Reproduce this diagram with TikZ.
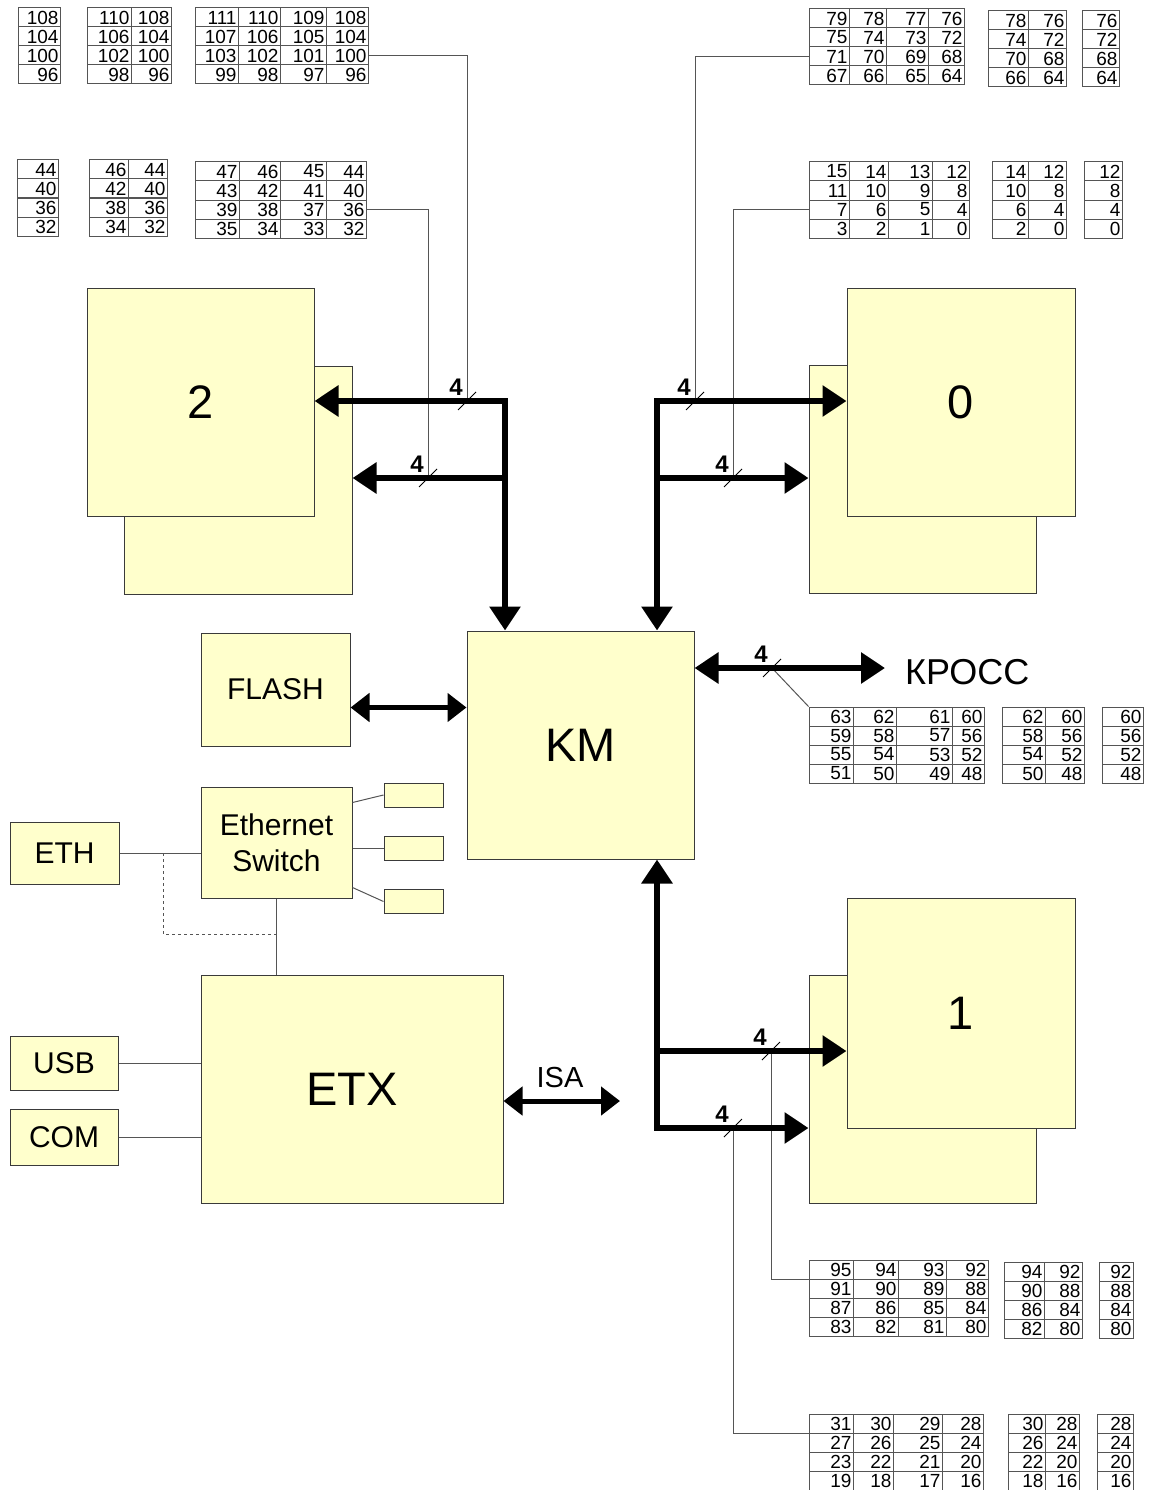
\documentclass[tikz,border=0pt]{standalone}
\usepackage{fontspec}
\setmainfont{Liberation Sans}
\usetikzlibrary{arrows.meta}

\definecolor{boxfill}{HTML}{FFFFCC}
\definecolor{boxline}{HTML}{3A3A3A}
\definecolor{wirec}{HTML}{555555}
\definecolor{tabline}{HTML}{555555}

\tikzset{
  blk/.style={draw=boxline, fill=boxfill, line width=1pt, inner sep=0pt},
  bignum/.style={font=\fontsize{47}{47}\selectfont},
  midtxt/.style={font=\fontsize{30}{36}\selectfont, align=center},
  cell/.style={draw=tabline, line width=1pt, inner xsep=2pt, inner ysep=0pt,
    minimum height=19pt, align=right, font=\fontsize{19}{19}\selectfont},
  bhead/.tip={Triangle[length=24pt,width=30pt]},
  shead/.tip={Triangle[length=19pt,width=28pt]},
  bus/.style={line width=6pt, line join=miter},
  bus2/.style={line width=5pt},
  wire/.style={draw=wirec, line width=1pt},
  tickline/.style={line width=1pt},
  tagnum/.style={font=\bfseries\fontsize{24}{24}\selectfont, inner sep=0pt}
}

% register table: name, left x, top y, column right edges, first value, step
\newcommand{\regtab}[6]{%
  \foreach \r in {0,...,3}{
    \foreach \xr [count=\c from 0, remember=\xr as \xl (initially #2)] in {#4}{
      \pgfmathsetmacro{\cw}{\xr-\xl}
      \pgfmathsetmacro{\tw}{\cw-3}
      \pgfmathtruncatemacro{\val}{#5-#6*\c-4*\r}
      \node[cell, minimum width=\cw pt, text width=\tw pt, inner xsep=1.5pt] (#1-\r-\c)
        at ({(\xl+\xr)/2},{#3+19*\r+9.5}) {\val};
    }
  }
}

% bus width mark: name, point on the bus
\newcommand{\wtick}[2]{%
  \draw[tickline] ([shift={(-9,9)}]#2) -- ([shift={(9,-9)}]#2);
  \node[tagnum] (#1) at ([shift={(-11,-14)}]#2) {4};
}

\begin{document}
\begin{tikzpicture}[x=1pt,y=-1pt]
  \useasboundingbox (0,0) rectangle (1150,1490);

  % tables, left
  \regtab{t1}{18}{8}{60}{108}{0}
  \regtab{t2}{87}{8}{131,171}{110}{2}
  \regtab{t3}{195}{8}{238,280,326,368}{111}{1}
  \regtab{t4}{17}{160}{58}{44}{0}
  \regtab{t5}{89}{160}{128,167}{46}{2}
  \regtab{t6}{195}{162}{239,280,326,366}{47}{1}
  % tables, right top
  \regtab{r1}{809}{9}{849,886,928,964}{79}{1}
  \regtab{r2}{988}{11}{1028,1066}{78}{2}
  \regtab{r3}{1082}{11}{1119}{76}{0}
  \regtab{r4}{809}{162}{849,888,932,969}{15}{1}
  \regtab{r5}{992}{162}{1028,1066}{14}{2}
  \regtab{r6}{1084}{162}{1122}{12}{0}
  % tables, cross
  \regtab{m1}{809}{707}{853,896,952,984}{63}{1}
  \regtab{m2}{1002}{707}{1045,1084}{62}{2}
  \regtab{m3}{1102}{707}{1143}{60}{0}
  % tables, bottom
  \regtab{b1}{809}{1260}{853,898,946,988}{95}{1}
  \regtab{b2}{1004}{1262}{1044,1082}{94}{2}
  \regtab{b3}{1099}{1262}{1133}{92}{0}
  \regtab{b4}{809}{1414}{853,893,942,983}{31}{1}
  \regtab{b5}{1008}{1414}{1045,1079}{30}{2}
  \regtab{b6}{1097}{1414}{1133}{28}{0}

  % modules
  \node[blk, minimum width=228pt, minimum height=228pt] (blk2b) at (238,480) {};
  \node[blk, bignum, minimum width=227pt, minimum height=228pt] (blk2) at (200.5,402) {2};
  \node[blk, minimum width=227pt, minimum height=228pt] (blk0b) at (922.5,479) {};
  \node[blk, bignum, minimum width=228pt, minimum height=228pt] (blk0) at (961,402) {0};
  \node[blk, minimum width=227pt, minimum height=228pt] (blk1b) at (922.5,1089) {};
  \node[blk, bignum, minimum width=228pt, minimum height=230pt] (blk1) at (961,1013) {1};
  \node[blk, bignum, minimum width=227pt, minimum height=228pt] (km) at (580.5,745) {KM};
  \node[blk, bignum, minimum width=302pt, minimum height=228pt] (etx) at (352,1089) {ETX};
  \node[blk, midtxt, minimum width=149pt, minimum height=113pt] (flash) at (275.5,689.5) {FLASH};
  \node[blk, midtxt, minimum width=151pt, minimum height=111pt] (sw) at (276.5,842.5) {Ethernet\\Switch};
  \node[blk, midtxt, minimum width=109pt, minimum height=62pt] (eth) at (64.5,853) {ETH};
  \node[blk, midtxt, minimum width=108pt, minimum height=54pt] (usb) at (64,1063) {USB};
  \node[blk, midtxt, minimum width=108pt, minimum height=56pt] (com) at (64,1137) {COM};
  % switch ports
  \node[blk, minimum width=59pt, minimum height=24pt] (p1) at (413.5,795) {};
  \node[blk, minimum width=59pt, minimum height=24pt] (p2) at (413.5,848.5) {};
  \node[blk, minimum width=59pt, minimum height=24pt] (p3) at (413.5,901.5) {};

  % labels
  \node[font=\fontsize{36}{36}\selectfont, anchor=west, inner sep=0pt] (kross) at (905,672) {КРОСС};
  \node[font=\fontsize{29}{29}\selectfont, inner sep=0pt] (isa) at (560,1078) {ISA};

  % bus points
  \coordinate (jL1) at (505,401);
  \coordinate (jL2) at (505,478);
  \coordinate (jR1) at (657,401);
  \coordinate (jR2) at (657,478);
  \coordinate (jB1) at (657,1051);
  \coordinate (jB2) at (657,1128);
  \coordinate (tkL1) at (467,401);
  \coordinate (tkL2) at (428,478);
  \coordinate (tkR1) at (695,401);
  \coordinate (tkR2) at (733,478);
  \coordinate (tkB1) at (771,1051);
  \coordinate (tkB2) at (733,1128);
  \coordinate (tkK) at (772,668);
  \coordinate (krossEnd) at (885,668);
  \coordinate (isaEnd) at (620,1101);
  \coordinate (flashBus) at ([yshift=-18pt]flash.east);
  \coordinate (ethTap) at (163,853);
  \coordinate (etxTap) at (276.5,934);

  % table wires
  \draw[wire] (t3-2-3.east) -| (tkL1);
  \draw[wire] (t6-2-3.east) -| (tkL2);
  \draw[wire] (r1-2-0.west) -| (tkR1);
  \draw[wire] (r4-2-0.west) -| (tkR2);
  \draw[wire] (b1-0-0.south west) -| (tkB1);
  \draw[wire] (b4-0-0.south west) -| (tkB2);
  \draw[wire] (tkK) -- (m1-0-0.north west);

  % ethernet wiring
  \draw[wire] (eth.east) -- (eth.east -| sw.west);
  \draw[wire, dashed] (ethTap) |- (etxTap);
  \draw[wire] (sw.south) -- (sw.south |- etx.north);
  \draw[wire] ([yshift=-16pt]sw.north east) -- (p1.west);
  \draw[wire] (sw.east |- p2) -- (p2.west);
  \draw[wire] ([yshift=11pt]sw.south east) -- (p3.west);
  \draw[wire] (usb.east) -- (usb.east -| etx.west);
  \draw[wire] (com.east) -- (com.east -| etx.west);

  % buses
  \draw[bus, bhead-bhead] (blk2.east |- jL1) -- (jL1) -- (jL1 |- km.north);
  \draw[bus, -bhead] (jL2) -- (blk2b.east |- jL2);
  \draw[bus, bhead-bhead] (blk0.west |- jR1) -- (jR1) -- (jR1 |- km.north);
  \draw[bus, -bhead] (jR2) -- (blk0b.west |- jR2);
  \draw[bus, bhead-bhead] (jB2 |- km.south) -- (jB2) -- (blk1b.west |- jB2);
  \draw[bus, -bhead] (jB1) -- (blk1.west |- jB1);
  \draw[bus, bhead-bhead] (km.east |- tkK) -- (krossEnd);
  \draw[bus2, shead-shead] (flashBus) -- (flashBus -| km.west);
  \draw[bus2, shead-shead] (etx.east |- isaEnd) -- (isaEnd);

  % width marks
  \wtick{wL1}{tkL1}
  \wtick{wL2}{tkL2}
  \wtick{wR1}{tkR1}
  \wtick{wR2}{tkR2}
  \wtick{wB1}{tkB1}
  \wtick{wB2}{tkB2}
  \wtick{wK}{tkK}
\end{tikzpicture}
\end{document}
